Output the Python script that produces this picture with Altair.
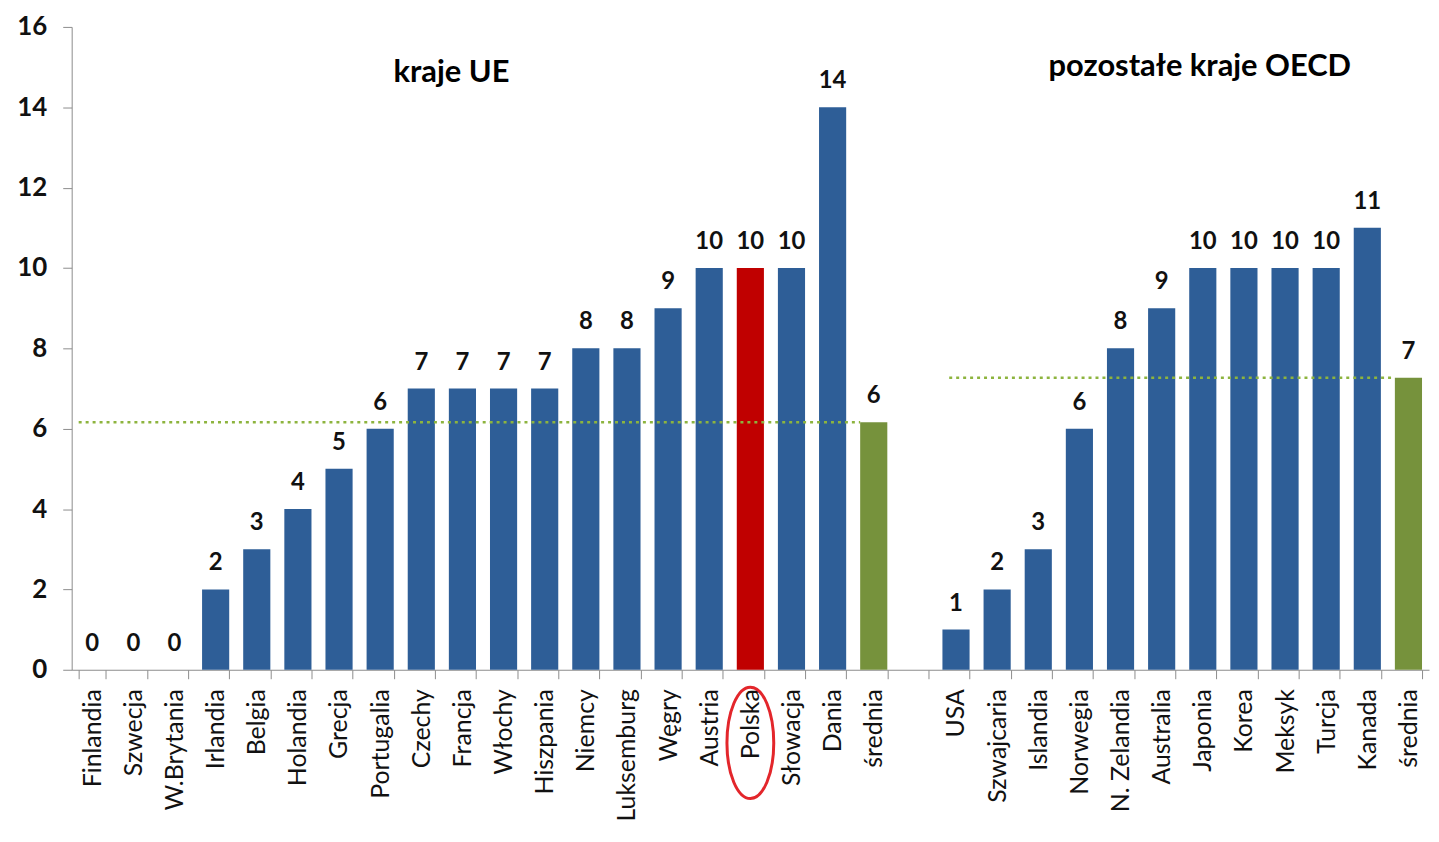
import altair as alt
import pandas as pd

# ---- data ----
eu_names = ["Finlandia", "Szwecja", "W.Brytania", "Irlandia", "Belgia", "Holandia",
            "Grecja", "Portugalia", "Czechy", "Francja", "Włochy", "Hiszpania",
            "Niemcy", "Luksemburg", "Węgry", "Austria", "Polska", "Słowacja",
            "Dania", "średnia"]
eu_values = [0, 0, 0, 2, 3, 4, 5, 6, 7, 7, 7, 7, 8, 8, 9, 10, 10, 10, 14, 6.16]

oecd_names = ["USA", "Szwajcaria", "Islandia", "Norwegia", "N. Zelandia", "Australia",
              "Japonia", "Korea", "Meksyk", "Turcja", "Kanada", "średnia"]
oecd_values = [1, 2, 3, 6, 8, 9, 10, 10, 10, 10, 11, 7.27]

eu_avg = 6.16
oecd_avg = 7.27
section_titles = ["kraje UE", "pozostałe kraje OECD"]

FONT = "Lato"
BLUE = "#2E5E97"
RED = "#C00000"
GREEN = "#76923C"
DOT = "#8DB43E"
AXIS = "#8c8c8c"

oecd_keys = [n if n != "średnia" else "średnia2" for n in oecd_names]
keys = eu_names + ["gap"] + oecd_keys


def kind(name):
    if name == "Polska":
        return "pl"
    if name.startswith("średnia"):
        return "avg"
    return "kraj"


df = pd.DataFrame({
    "key": eu_names + oecd_keys,
    "value": eu_values + oecd_values,
})
df["kind"] = df["key"].map(kind)

xscale = alt.Scale(domain=keys, paddingInner=0.34, paddingOuter=0.17)
yscale = alt.Scale(domain=[0, 16], nice=False)

x_axis = alt.Axis(
    title=None, labelAngle=-90, labelAlign="right", labelBaseline="middle",
    labelExpr="datum.value == 'gap' ? '' : (datum.value == 'średnia2' ? 'średnia' : datum.value)",
    tickBand="extent", labelFont=FONT, labelFontSize=25, labelColor="#111111",
    domainColor=AXIS, tickColor=AXIS, tickSize=9, labelPadding=10, labelOverlap=False,
)
y_axis = alt.Axis(
    title=None, values=[0, 2, 4, 6, 8, 10, 12, 14, 16], grid=False,
    labelFont=FONT, labelFontSize=26, labelFontWeight="bold", labelColor="#111111",
    domainColor=AXIS, tickColor=AXIS, tickSize=9, labelPadding=16,
)

base = alt.Chart(df)

bars = base.mark_bar().encode(
    x=alt.X("key:N", scale=xscale, axis=x_axis),
    y=alt.Y("value:Q", scale=yscale, axis=y_axis),
    color=alt.Color("kind:N", scale=alt.Scale(domain=["kraj", "pl", "avg"],
                                              range=[BLUE, RED, GREEN]), legend=None),
)

labels = base.mark_text(font=FONT, fontSize=24, fontWeight="bold", color="#111111",
                        baseline="middle", dy=-26).encode(
    x=alt.X("key:N", scale=xscale),
    y=alt.Y("value:Q", scale=yscale),
    text=alt.Text("value:Q", format=".0f"),
)

eu_line = alt.Chart(pd.DataFrame({"s": [eu_names[0]], "e": [eu_names[-1]], "v": [eu_avg]})).mark_rule(
    color=DOT, strokeDash=[3, 4], strokeWidth=2.5).encode(
    x=alt.X("s:N", scale=xscale, bandPosition=0),
    x2=alt.X2("e:N", bandPosition=0),
    y=alt.Y("v:Q", scale=yscale),
)
oecd_line = alt.Chart(pd.DataFrame({"s": [oecd_keys[0]], "e": [oecd_keys[-1]], "v": [oecd_avg]})).mark_rule(
    color=DOT, strokeDash=[3, 4], strokeWidth=2.5).encode(
    x=alt.X("s:N", scale=xscale, bandPosition=0.25),
    x2=alt.X2("e:N", bandPosition=0),
    y=alt.Y("v:Q", scale=yscale),
)

title_eu = alt.Chart(pd.DataFrame({"k": ["Francja"], "y": [14.84], "t": [section_titles[0]]})).mark_text(
    font=FONT, fontSize=31, fontWeight="bold", color="#000000", baseline="middle", dx=-11).encode(
    x=alt.X("k:N", scale=xscale), y=alt.Y("y:Q", scale=yscale), text="t:N")
title_oecd = alt.Chart(pd.DataFrame({"k": ["Japonia"], "y": [15.0], "t": [section_titles[1]]})).mark_text(
    font=FONT, fontSize=31, fontWeight="bold", color="#000000", baseline="middle", dx=-3).encode(
    x=alt.X("k:N", scale=xscale), y=alt.Y("y:Q", scale=yscale), text="t:N")

ellipse = alt.Chart(pd.DataFrame({"k": ["Polska"], "y": [-1.82]})).mark_point(
    shape="M0,-1A0.42,1 0 1,0 0,1A0.42,1 0 1,0 0,-1Z", size=12544, filled=False,
    stroke="#E3262B", strokeWidth=3, opacity=1).encode(
    x=alt.X("k:N", scale=xscale), y=alt.Y("y:Q", scale=yscale))

chart = alt.layer(bars, eu_line, oecd_line, labels, title_eu, title_oecd, ellipse).properties(
    width=1364, height=646, background="white",
    padding={"left": 8, "top": 4, "right": 2, "bottom": 2},
).configure_view(stroke=None)

chart.save("out.html", embed_options={"renderer": "svg", "actions": False})
